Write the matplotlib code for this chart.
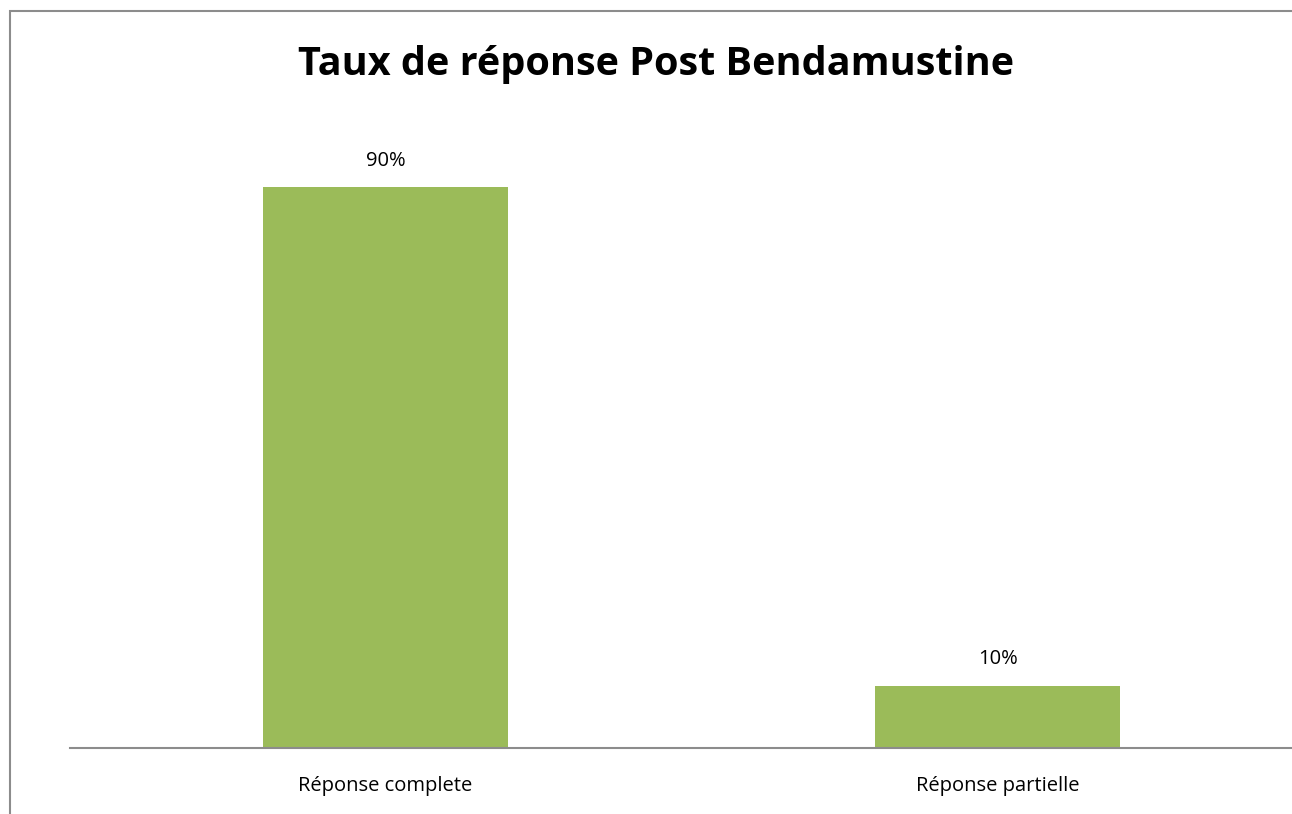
import matplotlib
matplotlib.use("Agg")
import matplotlib.pyplot as plt
from matplotlib.patches import Rectangle

categories = ["Réponse complete", "Réponse partielle"]
values = [90, 10]
labels = ["90%", "10%"]

W, H = 1292, 814
fig = plt.figure(figsize=(W / 100, H / 100), dpi=100)
plt.rcParams['font.family'] = ['Open Sans', 'DejaVu Sans']

# chart border (cut off at right and bottom as in the source)
fig.patches.append(Rectangle((10 / W, -0.1), 1.2, 1 - 11 / H + 0.1,
                             transform=fig.transFigure, fill=False,
                             edgecolor="#8c8c8c", linewidth=1.5))

ax = fig.add_axes([70 / W, 1 - 748 / H, 1 - 70 / W, (748 - 125) / H])
x = list(range(len(categories)))
bars = ax.bar(x, values, width=0.40, color="#9bbb59")
ax.set_xlim(-0.5155, 1.481)
ax.set_ylim(0, 100)

for b, lab in zip(bars, labels):
    ax.annotate(lab, (b.get_x() + b.get_width() / 2, b.get_height()),
                xytext=(0, 12), textcoords="offset points",
                ha="center", va="bottom", fontsize=14.5)

ax.set_xticks(x)
ax.set_xticklabels(categories, fontsize=14.5)
ax.tick_params(axis="x", length=0, pad=20)
ax.set_yticks([])
for s in ["top", "right", "left"]:
    ax.spines[s].set_visible(False)
ax.spines["bottom"].set_color("#8c8c8c")
ax.spines["bottom"].set_linewidth(1.5)

fig.text(656 / W, 1 - 65 / H, "Taux de réponse Post Bendamustine",
         ha="center", va="center", fontsize=28.5, fontweight="bold")

fig.savefig("out.png", dpi=100)
